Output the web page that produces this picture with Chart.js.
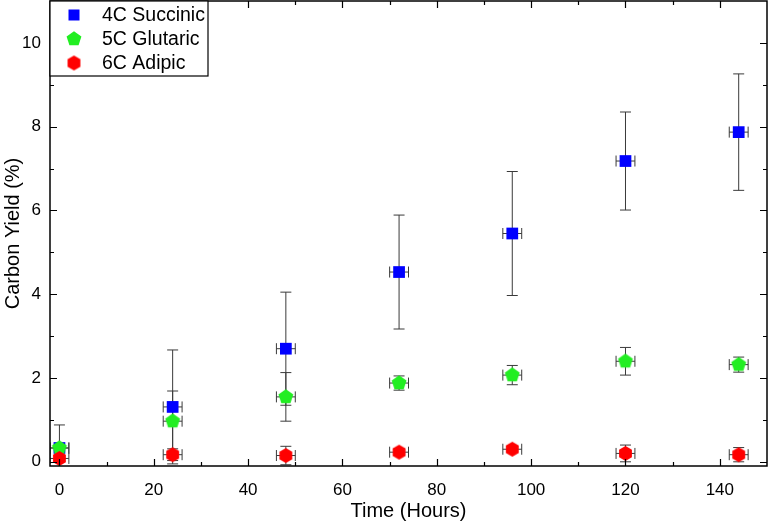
<!DOCTYPE html>
<html>
<head>
<meta charset="utf-8">
<script src="https://cdn.jsdelivr.net/npm/chart.js@4.4.1/dist/chart.umd.min.js"></script>
<style>
  html,body{margin:0;padding:0;background:#fff;}
  #wrap{width:770px;height:524px;}
</style>
</head>
<body>
<div id="wrap"><canvas id="c" width="770" height="524"></canvas></div>
<script>
// ---- data ----
const timeHours   = [0, 24, 48, 72, 96, 120, 144];
const timeErr     = [2, 2, 2, 2, 2, 2, 2];
const succinic    = [0.33, 1.31, 2.70, 4.53, 5.45, 7.18, 7.87];
const succinicErr = [0.55, 1.36, 1.35, 1.36, 1.48, 1.17, 1.39];
const glutaric    = [0.33, 0.97, 1.55, 1.88, 2.07, 2.40, 2.32];
const glutaricErr = [0.05, 0.72, 0.58, 0.17, 0.23, 0.33, 0.18];
const adipic      = [0.08, 0.17, 0.15, 0.23, 0.30, 0.20, 0.17];
const adipicErr   = [0.05, 0.14, 0.22, 0.08, 0.07, 0.20, 0.17];
const seriesNames = ['4C Succinic', '5C Glutaric', '6C Adipic'];
const xTickValues = [0, 20, 40, 60, 80, 100, 120, 140];
const xMinorTicks = [10, 30, 50, 70, 90, 110, 130, 150];
const yTickValues = [0, 2, 4, 6, 8, 10];
const yMinorTicks = [1, 3, 5, 7, 9];

const FONT = "'Liberation Sans', Arial, sans-serif";

function polyCanvas(sides, r, color, rot) {
  const s = Math.ceil(r * 2 + 2);
  const cv = document.createElement('canvas');
  cv.width = s; cv.height = s;
  const g = cv.getContext('2d');
  g.fillStyle = color;
  g.beginPath();
  for (let i = 0; i < sides; i++) {
    const a = rot + i * 2 * Math.PI / sides;
    const px = s / 2 + r * Math.cos(a), py = s / 2 + r * Math.sin(a);
    if (i === 0) g.moveTo(px, py); else g.lineTo(px, py);
  }
  g.closePath();
  g.fill();
  return cv;
}
const pentagon = polyCanvas(5, 7.8, '#22ee22', -Math.PI / 2);
const hexagon  = polyCanvas(6, 7.4, '#ff0000', -Math.PI / 2);

function pts(ys, errs) {
  return timeHours.map((t, i) => ({x: t, y: ys[i], xe: timeErr[i], ye: errs[i]}));
}

const errorBars = {
  id: 'errorBars',
  beforeDatasetsDraw(chart) {
    const {ctx, chartArea, scales: {x, y}} = chart;
    ctx.save();
    ctx.beginPath();
    ctx.rect(chartArea.left, chartArea.top, chartArea.right - chartArea.left, chartArea.bottom - chartArea.top);
    ctx.clip();
    ctx.strokeStyle = '#3a3a3a';
    ctx.lineWidth = 1;
    const cap = 5.5;
    [0, 1, 2].forEach(di => {
      chart.data.datasets[di].data.forEach(p => {
        const px = x.getPixelForValue(p.x), py = y.getPixelForValue(p.y);
        const y1 = y.getPixelForValue(p.y + p.ye), y2 = y.getPixelForValue(p.y - p.ye);
        const x1 = x.getPixelForValue(p.x - p.xe), x2 = x.getPixelForValue(p.x + p.xe);
        ctx.beginPath();
        ctx.moveTo(px, y1); ctx.lineTo(px, y2);
        ctx.moveTo(px - cap, y1); ctx.lineTo(px + cap, y1);
        ctx.moveTo(px - cap, y2); ctx.lineTo(px + cap, y2);
        ctx.moveTo(x1, py); ctx.lineTo(x2, py);
        ctx.moveTo(x1, py - cap); ctx.lineTo(x1, py + cap);
        ctx.moveTo(x2, py - cap); ctx.lineTo(x2, py + cap);
        ctx.stroke();
      });
    });
    ctx.restore();
  }
};

const frameAndLegend = {
  id: 'frameAndLegend',
  afterDraw(chart) {
    const {ctx, chartArea: a, scales: {x, y}} = chart;
    ctx.save();
    ctx.strokeStyle = '#000';
    ctx.lineWidth = 1.5;
    ctx.strokeRect(a.left, a.top, a.right - a.left, a.bottom - a.top);
    ctx.lineWidth = 1.2;
    ctx.beginPath();
    const tick = (vals, len) => {
      vals.forEach(v => {
        const px = Math.round(x.getPixelForValue(v)) + 0.5;
        if (px < a.left || px > a.right) return;
        ctx.moveTo(px, a.bottom); ctx.lineTo(px, a.bottom - len);
        ctx.moveTo(px, a.top); ctx.lineTo(px, a.top + len);
      });
    };
    const ytick = (vals, len) => {
      vals.forEach(v => {
        const py = Math.round(y.getPixelForValue(v)) + 0.5;
        if (py < a.top || py > a.bottom) return;
        ctx.moveTo(a.left, py); ctx.lineTo(a.left + len, py);
        ctx.moveTo(a.right, py); ctx.lineTo(a.right - len, py);
      });
    };
    tick(xTickValues, 7); tick(xMinorTicks, 4);
    ytick(yTickValues, 7); ytick(yMinorTicks, 4);
    ctx.stroke();

    // legend box
    const lx = a.left, ly = a.top, lw = 158, lh = 75;
    ctx.fillStyle = '#fff';
    ctx.fillRect(lx, ly, lw, lh);
    ctx.lineWidth = 1.2;
    ctx.strokeRect(lx, ly, lw, lh);
    const rows = [14, 38, 62];
    const mx = lx + 24;
    ctx.fillStyle = '#0000ff';
    ctx.fillRect(mx - 5.5, ly + rows[0] - 5.5, 11, 11);
    ctx.drawImage(pentagon, mx - pentagon.width / 2, ly + rows[1] - pentagon.height / 2);
    ctx.drawImage(hexagon, mx - hexagon.width / 2, ly + rows[2] - hexagon.height / 2);
    ctx.fillStyle = '#000';
    ctx.font = '19.5px ' + FONT;
    ctx.textBaseline = 'middle';
    ctx.textAlign = 'left';
    seriesNames.forEach((n, i) => ctx.fillText(n, lx + 52, ly + rows[i] + 1));
    ctx.restore();
  }
};

new Chart(document.getElementById('c'), {
  type: 'scatter',
  data: {
    datasets: [
      {label: seriesNames[0], data: pts(succinic, succinicErr), pointStyle: 'rect', radius: 8.3,
       backgroundColor: '#0000ff', borderColor: '#0000ff', borderWidth: 0, order: 3},
      {label: seriesNames[1], data: pts(glutaric, glutaricErr), pointStyle: pentagon, radius: 8,
       backgroundColor: '#22ee22', borderColor: '#22ee22', borderWidth: 0, order: 2},
      {label: seriesNames[2], data: pts(adipic, adipicErr), pointStyle: hexagon, radius: 8,
       backgroundColor: '#ff0000', borderColor: '#ff0000', borderWidth: 0, order: 1}
    ]
  },
  options: {
    responsive: false,
    devicePixelRatio: 1,
    animation: false,
    layout: {autoPadding: false, padding: {top: 1, right: 3, left: 0, bottom: 0}},
    plugins: {legend: {display: false}, tooltip: {enabled: false}},
    elements: {point: {hoverRadius: 8}},
    scales: {
      x: {
        type: 'linear', min: -2, max: 150,
        grid: {display: false, drawTicks: false},
        border: {display: false},
        afterBuildTicks: s => { s.ticks = xTickValues.map(v => ({value: v})); },
        afterFit: s => { s.height = 58; s.paddingLeft = 0; s.paddingRight = 0; s.paddingTop = 0; s.paddingBottom = 0; },
        ticks: {color: '#000', font: {family: FONT, size: 17}, padding: 14},
        title: {display: true, text: 'Time (Hours)', color: '#000', font: {family: FONT, size: 20}, padding: {top: 2, bottom: 1}}
      },
      y: {
        type: 'linear', min: -0.1, max: 11,
        grid: {display: false, drawTicks: false},
        border: {display: false},
        afterBuildTicks: s => { s.ticks = yTickValues.map(v => ({value: v})); },
        afterFit: s => { s.width = 50; s.paddingLeft = 0; s.paddingRight = 0; s.paddingTop = 0; s.paddingBottom = 0; },
        ticks: {color: '#000', font: {family: FONT, size: 17}, padding: 9},
        title: {display: true, text: 'Carbon Yield (%)', color: '#000', font: {family: FONT, size: 20}, padding: {top: 1, bottom: 4}}
      }
    }
  },
  plugins: [errorBars, frameAndLegend]
});
</script>
</body>
</html>
